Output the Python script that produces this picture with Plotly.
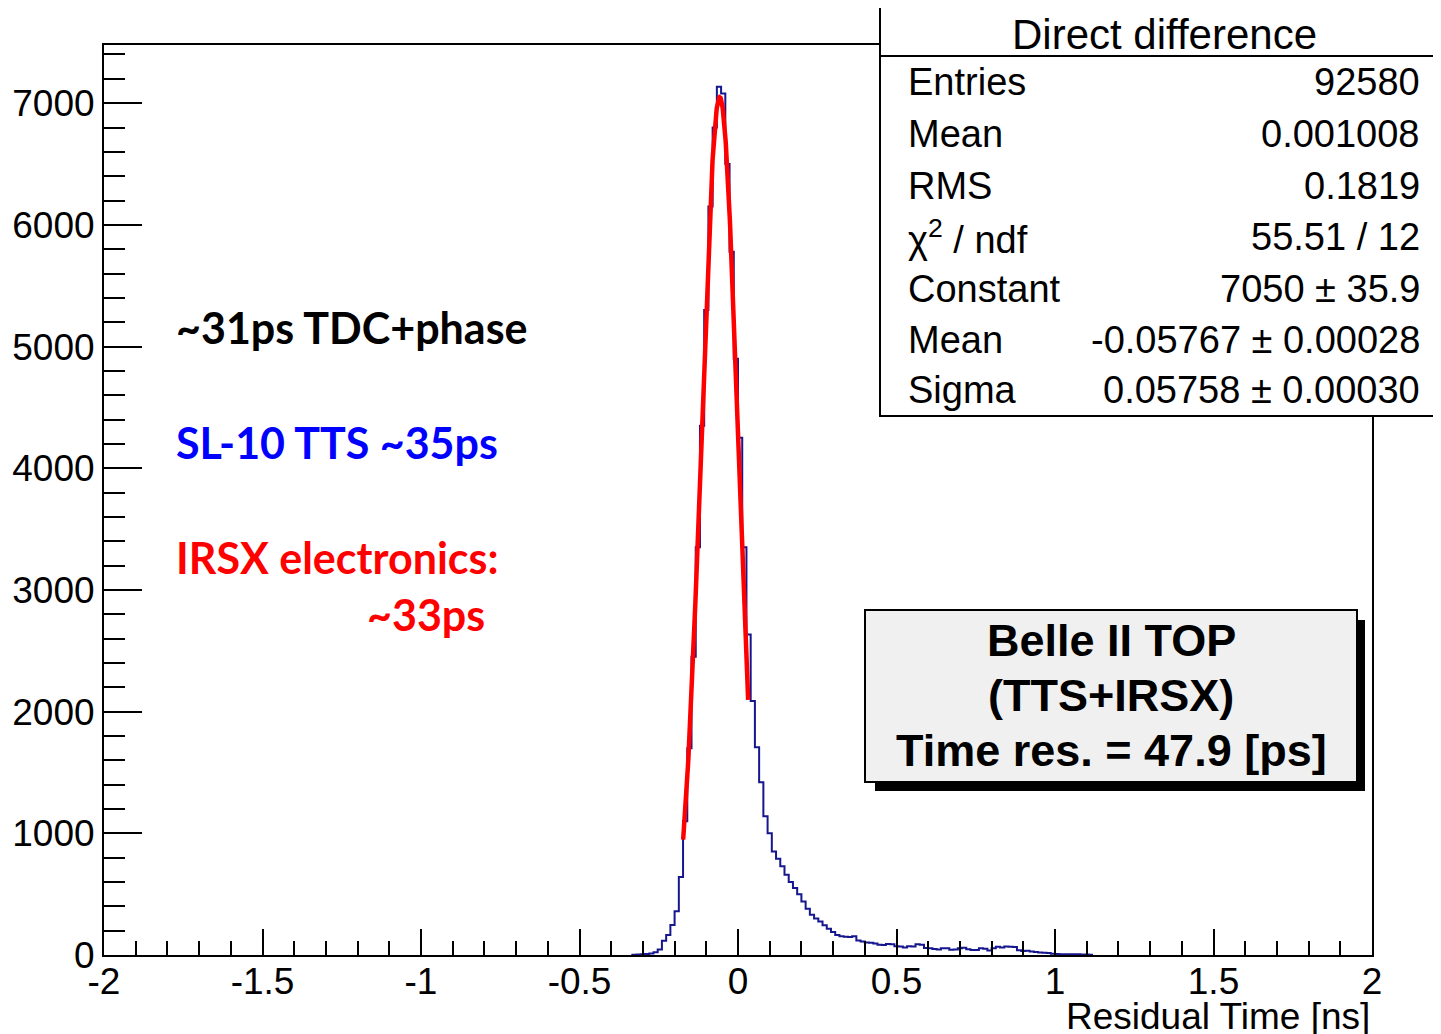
import numpy as np
import plotly.graph_objects as go

# ---------------- data ----------------
# histogram definition (300 bins over [-2, 2]); first non-empty bin starts here
first_edge = -0.333333
bin_width = 4.0 / 300
counts = [2, 4, 6, 8, 12, 22, 45, 117, 165, 246,
          360, 640, 1100, 1700, 2450, 3350, 4350, 5300, 6150, 6800,
          7134, 7080, 6500, 5780, 4900, 4250, 3350, 2634, 2087, 1707,
          1420, 1141, 1000, 850, 790, 730, 660, 600, 550, 500,
          440, 380, 330, 300, 275, 245, 215, 190, 165, 155,
          150, 148, 155, 120, 110, 102, 100, 95, 85, 82,
          90, 88, 72, 70, 62, 72, 70, 88, 85, 58,
          55, 50, 45, 55, 56, 44, 45, 55, 60, 48,
          42, 42, 55, 52, 38, 55, 68, 62, 70, 68,
          65, 40, 32, 35, 28, 25, 20, 18, 16, 10,
          8, 7, 7, 6, 6, 6, 5, 5, 3]

# gaussian fit results (from stats box) and fit range
fit_constant = 7050
fit_mean = -0.05767
fit_sigma = 0.05758
fit_range = [-0.173, 0.032]

stats_labels = ["Entries", "Mean", "RMS", "χ<sup>2</sup> / ndf", "Constant", "Mean", "Sigma"]
stats_values = ["92580", "0.001008", "0.1819", "55.51 / 12", "7050 ± 35.9",
                "-0.05767 ± 0.00028", "0.05758 ± 0.00030"]
stats_title = "Direct difference"

x_ticks = [-2, -1.5, -1, -0.5, 0, 0.5, 1, 1.5, 2]
y_ticks = [0, 1000, 2000, 3000, 4000, 5000, 6000, 7000]

# ---------------- figure ----------------
n = len(counts)
edges = first_edge + bin_width * np.arange(n + 1)
hx = [edges[0]] + list(edges)
hy = [0] + counts + [counts[-1]]

fx = np.linspace(fit_range[0], fit_range[1], 300)
fy = fit_constant * np.exp(-0.5 * ((fx - fit_mean) / fit_sigma) ** 2)

fig = go.Figure()
fig.add_trace(go.Scatter(x=hx, y=hy, mode="lines", line=dict(shape="hv", color="#16168f", width=2),
                         showlegend=False, hoverinfo="skip"))
fig.add_trace(go.Scatter(x=fx, y=fy, mode="lines", line=dict(color="#ff0000", width=4.5),
                         showlegend=False, hoverinfo="skip"))

OFF = 8  # page body margin
W, H = 1441 - OFF, 1034 - OFF
L, R, T, B = 104 - OFF, 1372 - OFF, 45 - OFF, 955 - OFF
FONT = "Liberation Sans, Arial, Helvetica, sans-serif"


def px(X):
    return (X - OFF - L) / (R - L)


def py(Y):
    return (B - (Y - OFF)) / (B - T)


fig.update_layout(
    width=W, height=H,
    margin=dict(l=L, r=W - R, t=T, b=H - B, pad=0, autoexpand=False),
    paper_bgcolor="white", plot_bgcolor="white",
    font=dict(family=FONT, size=37, color="black"),
    xaxis=dict(range=[-2, 2], tickvals=x_ticks, ticktext=[f"{v:g}" for v in x_ticks],
               ticks="inside", ticklen=26, tickwidth=2, tickcolor="black",
               minor=dict(ticks="inside", ticklen=14, tickwidth=2, tickcolor="black", dtick=0.1, showgrid=False),
               showline=True, linewidth=2, linecolor="black", mirror=True, automargin=False,
               showgrid=False, zeroline=False, tickfont=dict(size=37, family=FONT),
               ticklabelstandoff=-7),
    yaxis=dict(range=[0, 7478], tickvals=y_ticks,
               ticks="inside", ticklen=38, tickwidth=2, tickcolor="black",
               minor=dict(ticks="inside", ticklen=21, tickwidth=2, tickcolor="black", dtick=200, showgrid=False),
               showline=True, linewidth=2, linecolor="black", mirror=True, automargin=False,
               showgrid=False, zeroline=False, tickfont=dict(size=37, family=FONT),
               ticklabelstandoff=0),
)

shapes = []
# stats box
shapes.append(dict(type="rect", xref="paper", yref="paper", x0=px(880), x1=px(1440), y0=py(416), y1=py(5),
                   line=dict(color="black", width=2), fillcolor="white", layer="above"))
shapes.append(dict(type="line", xref="paper", yref="paper", x0=px(880), x1=px(1440), y0=py(56), y1=py(56),
                   line=dict(color="black", width=2), layer="above"))
# TOP box with shadow
shapes.append(dict(type="rect", xref="paper", yref="paper", x0=px(875), x1=px(1365), y0=py(791), y1=py(620),
                   line=dict(width=0), fillcolor="black", layer="above"))
shapes.append(dict(type="rect", xref="paper", yref="paper", x0=px(865), x1=px(1357), y0=py(782), y1=py(610),
                   line=dict(color="black", width=2), fillcolor="#f0f0f0", layer="above"))
fig.update_layout(shapes=shapes)

ann = []
ann.append(dict(text=stats_title, x=px(1164), y=py(34), xref="paper", yref="paper",
                xanchor="center", yanchor="middle", showarrow=False, font=dict(size=42, family=FONT)))
row_y = [82, 134, 186, 237, 289, 340, 390]
for lab, val, yy in zip(stats_labels, stats_values, row_y):
    ann.append(dict(text=lab, x=px(906), y=py(yy), xref="paper", yref="paper",
                    xanchor="left", yanchor="middle", showarrow=False, font=dict(size=38, family=FONT)))
    ann.append(dict(text=val, x=px(1422), y=py(yy), xref="paper", yref="paper",
                    xanchor="right", yanchor="middle", showarrow=False, font=dict(size=38, family=FONT)))

for txt, yy in zip(["<b>Belle II TOP</b>", "<b>(TTS+IRSX)</b>", "<b>Time res. = 47.9 [ps]</b>"], [640, 695, 750]):
    ann.append(dict(text=txt, x=px(1111), y=py(yy), xref="paper", yref="paper",
                    xanchor="center", yanchor="middle", showarrow=False, font=dict(size=45, family=FONT)))

SFONT = "Lato, Open Sans, sans-serif"
SS = 43
ann.append(dict(text="<b>~31ps TDC+phase</b>", x=px(174), y=py(327), xref="paper", yref="paper",
                xanchor="left", yanchor="middle", showarrow=False, font=dict(size=SS, family=SFONT, color="black")))
ann.append(dict(text="<b>SL-10 TTS ~35ps</b>", x=px(174), y=py(442), xref="paper", yref="paper",
                xanchor="left", yanchor="middle", showarrow=False, font=dict(size=SS, family=SFONT, color="#0000ff")))
ann.append(dict(text="<b>IRSX electronics:</b>", x=px(174), y=py(557), xref="paper", yref="paper",
                xanchor="left", yanchor="middle", showarrow=False, font=dict(size=SS, family=SFONT, color="#ff0000")))
ann.append(dict(text="<b>~33ps</b>", x=px(487), y=py(614), xref="paper", yref="paper",
                xanchor="right", yanchor="middle", showarrow=False, font=dict(size=SS, family=SFONT, color="#ff0000")))

ann.append(dict(text="Residual Time [ns]", x=1.0, y=py(1016), xref="paper", yref="paper",
                xanchor="right", yanchor="middle", showarrow=False, font=dict(size=37, family=FONT)))
fig.update_layout(annotations=ann)

fig.write_html("out.html")
